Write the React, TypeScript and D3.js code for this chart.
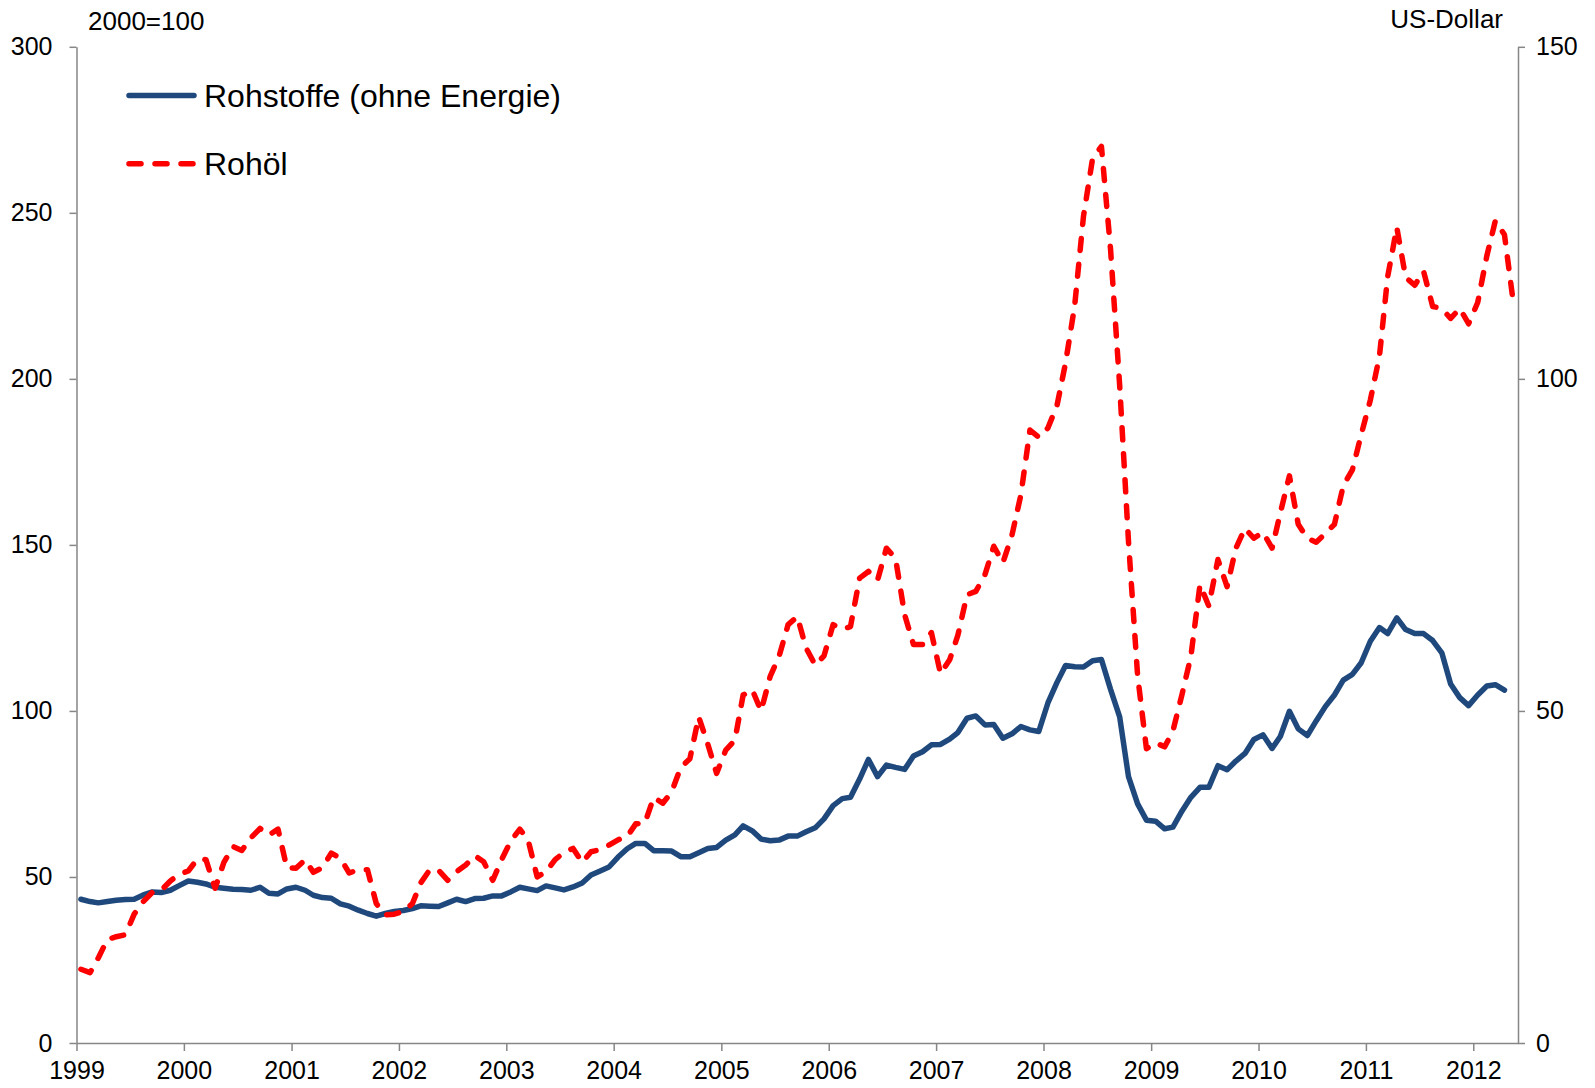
import { useEffect, useRef } from 'react';
import * as d3 from 'd3';

// monthly values, Jan 1999 onwards
const rohstoffe = [
  43.3, 42.6, 42.2, 42.6, 43.0, 43.2, 43.3, 44.6, 45.5, 45.3, 46.0, 47.4,
  48.8, 48.4, 47.9, 46.9, 46.6, 46.3, 46.2, 46.0, 46.9, 45.1, 44.9, 46.4,
  46.9, 46.0, 44.5, 43.8, 43.6, 41.9, 41.2, 40.0, 39.0, 38.2, 39.0, 39.6,
  39.9, 40.5, 41.3, 41.2, 41.1, 42.2, 43.3, 42.6, 43.5, 43.6, 44.3, 44.3,
  45.5, 46.9, 46.4, 45.9, 47.3, 46.7, 46.1, 47.0, 48.2, 50.6, 51.8, 53.0,
  56.0, 58.5, 60.1, 60.1, 57.9, 57.9, 57.8, 56.1, 56.1, 57.3, 58.6, 58.9,
  61.1, 62.7, 65.4, 63.9, 61.4, 60.9, 61.1, 62.3, 62.3, 63.6, 64.8, 67.5,
  71.5, 73.6, 74.0, 79.5, 85.4, 80.2, 83.7, 83.0, 82.4, 86.4, 87.7, 89.8,
  89.9, 91.5, 93.5, 97.8, 98.5, 95.8, 95.9, 91.8, 93.1, 95.3, 94.3, 93.8,
  102.4, 108.6, 113.7, 113.3, 113.2, 115.1, 115.5, 106.5, 98.2, 80.2, 72.0, 67.1,
  66.8, 64.5, 65.0, 69.9, 74.0, 77.0, 77.0, 83.5, 82.3, 84.9, 87.2, 91.4,
  92.8, 88.7, 92.3, 99.9, 94.6, 92.6, 97.0, 101.3, 104.8, 109.3, 111.0, 114.5,
  121.0, 125.1, 123.3, 128.0, 124.5, 123.3, 123.3, 121.2, 117.5, 108.1, 104.0, 101.6,
  104.8, 107.5, 107.9, 106.3,
];

// US-Dollar per barrel (right axis)
const rohoel = [
  11.1, 10.6, 12.8, 15.6, 16.0, 16.3, 19.4, 21.3, 22.7, 23.0, 24.4, 25.4,
  25.9, 27.7, 27.6, 23.3, 27.2, 29.6, 29.0, 30.9, 32.3, 31.3, 32.2, 26.4,
  26.3, 27.6, 25.7, 26.4, 28.6, 27.8, 25.6, 26.1, 26.1, 21.0, 19.3, 19.4,
  19.8, 21.0, 24.1, 26.1, 26.0, 24.5, 25.8, 26.8, 28.2, 27.3, 24.5, 27.6,
  30.4, 32.2, 30.6, 25.0, 25.8, 27.6, 28.7, 29.3, 27.2, 28.8, 29.1, 29.8,
  30.6, 31.1, 33.0, 33.1, 37.0, 36.1, 37.8, 41.5, 42.8, 49.1, 45.0, 40.6,
  44.1, 45.6, 52.4, 53.2, 50.0, 55.2, 58.2, 63.0, 64.2, 59.5, 56.9, 58.3,
  63.0, 62.3, 62.7, 70.0, 71.0, 69.7, 74.5, 73.0, 64.5, 60.0, 60.0, 61.8,
  55.6, 57.7, 61.4, 67.5, 68.0, 70.5, 74.8, 72.3, 76.5, 82.5, 92.3, 91.2,
  92.6, 96.0, 102.4, 111.0, 124.5, 133.2, 135.0, 119.5, 99.0, 75.5, 55.3, 44.3,
  45.2, 44.6, 47.0, 52.5, 58.2, 69.0, 65.8, 72.8, 68.7, 74.5, 77.5, 76.0,
  76.9, 74.5, 79.8, 85.4, 78.1, 76.0, 75.4, 76.7, 78.1, 83.9, 86.3, 91.6,
  96.8, 103.4, 115.4, 122.8, 115.3, 114.1, 116.2, 110.9, 110.6, 109.1, 110.6, 108.3,
  111.5, 118.5, 123.8, 121.7, 111.5,
];

const leftTicks = [0, 50, 100, 150, 200, 250, 300];
const rightTicks = [0, 50, 100, 150];
const years = d3.range(1999, 2013);

const month = (i: number) => new Date(1999 + Math.floor(i / 12), i % 12, 16);

const W = 1595;
const H = 1088;
const FONT = '"Liberation Sans", Arial, sans-serif';

const App = () => {
  const svgRef = useRef<SVGSVGElement>(null);

  useEffect(() => {
    if (!svgRef.current) return;
    const svg = d3.select(svgRef.current);
    svg.selectAll('*').remove();

    const left = 76.5, right = 1518, top = 46.8, bottom = 1043;

    const x = d3.scaleTime()
      .domain([new Date(1999, 0, 1), new Date(2012, 5, 1)])
      .range([left, right]);
    const yL = d3.scaleLinear().domain([0, 300]).range([bottom, top]);
    const yR = d3.scaleLinear().domain([0, 150]).range([bottom, top]);

    const axisColor = '#868686';

    const styleAxis = (g: d3.Selection<SVGGElement, unknown, null, undefined>) => {
      g.attr('font-family', null).attr('font-size', null);
      g.select('.domain').attr('stroke', axisColor).attr('stroke-width', 1.5);
      g.selectAll('.tick line').attr('stroke', axisColor).attr('stroke-width', 1.5);
      g.selectAll('.tick text')
        .attr('fill', '#000')
        .style('font-family', FONT)
        .style('font-size', '25px');
    };

    svg.append('g')
      .attr('transform', `translate(${left},0)`)
      .call(d3.axisLeft(yL).tickValues(leftTicks).tickSize(7).tickSizeOuter(0).tickPadding(17))
      .call(styleAxis);

    svg.append('g')
      .attr('transform', `translate(${right},0)`)
      .call(d3.axisRight(yR).tickValues(rightTicks).tickSize(7).tickSizeOuter(0).tickPadding(11))
      .call(styleAxis);

    svg.append('g')
      .attr('transform', `translate(0,${bottom})`)
      .call(d3.axisBottom(x)
        .tickValues(years.map(y => new Date(y, 0, 1)))
        .tickFormat(d => String((d as Date).getFullYear()))
        .tickSize(8).tickSizeOuter(0).tickPadding(10))
      .call(styleAxis);

    const blueLine = d3.line<number>()
      .x((_, i) => x(month(i)))
      .y(d => yL(d));
    const redLine = d3.line<number>()
      .x((_, i) => x(month(i)))
      .y(d => yR(d));

    svg.append('path')
      .datum(rohstoffe)
      .attr('d', blueLine)
      .attr('fill', 'none')
      .attr('stroke', '#1F497D')
      .attr('stroke-width', 5.5)
      .attr('stroke-linejoin', 'round')
      .attr('stroke-linecap', 'round');

    svg.append('path')
      .datum(rohoel)
      .attr('d', redLine)
      .attr('fill', 'none')
      .attr('stroke', '#FF0000')
      .attr('stroke-width', 5.5)
      .attr('stroke-dasharray', '12 14')
      .attr('stroke-linejoin', 'round')
      .attr('stroke-linecap', 'round');

    // legend
    const legend = svg.append('g');
    const items = [
      { label: 'Rohstoffe (ohne Energie)', color: '#1F497D', dash: null, y: 95.6 },
      { label: 'Rohöl', color: '#FF0000', dash: '12 14', y: 163.8 },
    ];
    items.forEach(it => {
      legend.append('line')
        .attr('x1', 129).attr('x2', 194)
        .attr('y1', it.y).attr('y2', it.y)
        .attr('stroke', it.color)
        .attr('stroke-width', 5.5)
        .attr('stroke-linecap', 'round')
        .attr('stroke-dasharray', it.dash);
      legend.append('text')
        .attr('x', 204)
        .attr('y', it.y)
        .attr('dy', '0.35em')
        .style('font-family', FONT)
        .style('font-size', '32px')
        .text(it.label);
    });

    svg.append('text')
      .attr('x', 88).attr('y', 20.5)
      .attr('dy', '0.35em')
      .style('font-family', FONT)
      .style('font-size', '26px')
      .text('2000=100');

    svg.append('text')
      .attr('x', 1503).attr('y', 18.5)
      .attr('dy', '0.35em')
      .attr('text-anchor', 'end')
      .style('font-family', FONT)
      .style('font-size', '26px')
      .text('US-Dollar');
  }, []);

  return (
    <svg
      ref={svgRef}
      width={W}
      height={H}
      style={{ position: 'absolute', left: 0, top: 0, display: 'block', background: '#fff' }}
    />
  );
};

export default App;
